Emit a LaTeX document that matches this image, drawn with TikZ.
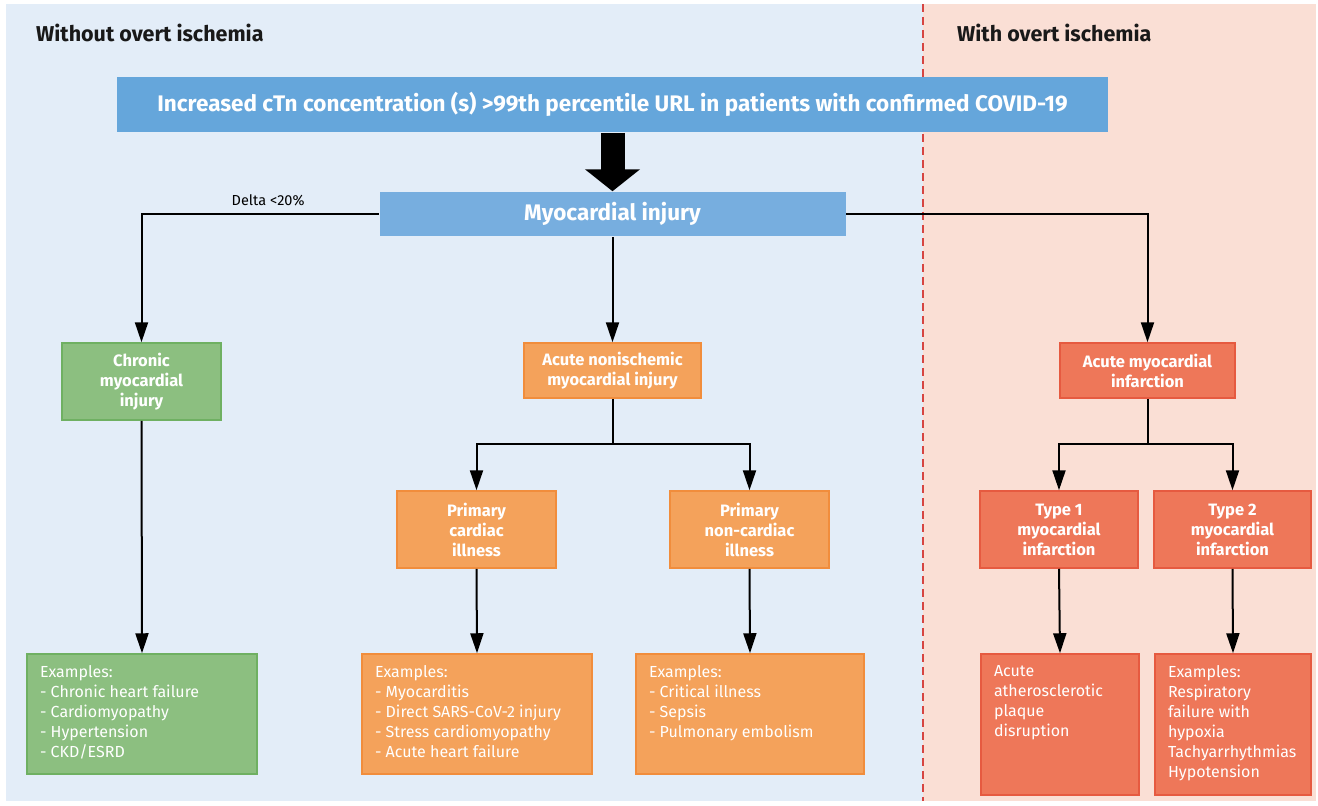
\documentclass[tikz,border=0pt]{standalone}
\usepackage{fontspec}
\setmainfont{Fira Sans}
\usetikzlibrary{arrows.meta,calc}
\definecolor{bgblue}{HTML}{E3EDF8}
\definecolor{bgpink}{HTML}{FADFD5}
\definecolor{topblue}{HTML}{65A6DB}
\definecolor{myoblue}{HTML}{77AEDF}
\definecolor{gfill}{HTML}{8CBF80}
\definecolor{gdraw}{HTML}{6FB062}
\definecolor{ofill}{HTML}{F4A25B}
\definecolor{odraw}{HTML}{F18D3C}
\definecolor{rfill}{HTML}{EE7759}
\definecolor{rdraw}{HTML}{E65A40}
\definecolor{dashred}{HTML}{D64541}
\tikzset{
  box/.style={rectangle, line width=1.5pt, text=white, align=center, inner sep=0pt,
    font=\bfseries\fontsize{16.5}{20}\selectfont},
  gbox/.style={box, fill=gfill, draw=gdraw},
  obox/.style={box, fill=ofill, draw=odraw},
  rbox/.style={box, fill=rfill, draw=rdraw},
  exfont/.style={font=\fontsize{16}{20}\selectfont, align=left},
  conn/.style={line width=2pt, black},
  arr/.style={conn, -{Triangle[length=20pt,width=13pt]}},
  title/.style={font=\bfseries\fontsize{21.5}{24}\selectfont, text=black!90, anchor=west, inner sep=0pt},
}
\newcommand{\exbox}[3]{\parbox[t][#2][t]{#1}{#3}}
\begin{document}
\begin{tikzpicture}[x=1pt,y=-1pt]
\useasboundingbox (0,0) rectangle (1318,806);
\fill[white] (0,0) rectangle (1318,806);
\fill[bgblue] (6,4) rectangle (923,801);
\fill[bgpink] (923,4) rectangle (1316,801);
\draw[dashred, line width=1.6pt, dash pattern=on 8pt off 5pt] (923,4) -- (923,801);

\node[title] (tl) at (36,33) {Without overt ischemia};
\node[title] (tr) at (957,33) {With overt ischemia};

\node[box, fill=topblue, minimum width=991pt, minimum height=55pt,
  font=\bfseries\fontsize{22.5}{26}\selectfont] (top) at (612.5,104.5)
  {Increased cTn concentration (s) >99th percentile URL in patients with confirmed COVID-19};
\node[box, fill=myoblue, minimum width=466pt, minimum height=44pt,
  font=\bfseries\fontsize{22.5}{26}\selectfont] (myo) at (612.5,214) {Myocardial injury};

\node[gbox, minimum width=159pt, minimum height=77pt] (chronic) at (141.5,381.5) {Chronic\\myocardial\\injury};
\node[obox, minimum width=177pt, minimum height=55pt] (ani) at (612.5,370.5) {Acute nonischemic\\myocardial injury};
\node[rbox, minimum width=175pt, minimum height=55pt] (ami) at (1147.5,370.5) {Acute myocardial\\infarction};

\node[obox, minimum width=159pt, minimum height=77pt] (pc) at (476.5,529.5) {Primary\\cardiac\\illness};
\node[obox, minimum width=159pt, minimum height=77pt] (pnc) at (749.5,529.5) {Primary\\non-cardiac\\illness};
\node[rbox, minimum width=158pt, minimum height=77pt] (t1) at (1059,529.5) {Type 1\\myocardial\\infarction};
\node[rbox, minimum width=157pt, minimum height=77pt] (t2) at (1232.5,529.5) {Type 2\\myocardial\\infarction};

\node[gbox, exfont, inner xsep=13pt, inner ysep=11pt] (ex1) at (142,714)
  {\exbox{204pt}{98pt}{Examples:\\- Chronic heart failure\\- Cardiomyopathy\\- Hypertension\\- CKD/ESRD}};
\node[obox, exfont, inner xsep=13pt, inner ysep=11pt] (ex2) at (477,714)
  {\exbox{204pt}{98pt}{Examples:\\- Myocarditis\\- Direct SARS-CoV-2 injury\\- Stress cardiomyopathy\\- Acute heart failure}};
\node[obox, exfont, inner xsep=13pt, inner ysep=11pt] (ex3) at (750,714)
  {\exbox{202pt}{98pt}{Examples:\\- Critical illness\\- Sepsis\\- Pulmonary embolism}};
\node[rbox, exfont, inner xsep=13pt, inner ysep=11pt] (ex4) at (1060,724.5)
  {\exbox{132pt}{119pt}{Acute\\atherosclerotic\\plaque\\disruption}};
\node[rbox, exfont, inner xsep=13pt, inner ysep=11pt] (ex5) at (1233,724.5)
  {\exbox{130pt}{119pt}{Examples:\\Respiratory\\failure with\\hypoxia\\Tachyarrhythmias\\Hypotension}};

% big arrow
\draw[line width=24pt, -{Triangle[length=22pt,width=54pt]}] (top.south) -- (myo.north);

\draw[arr] (myo.west) -| node[pos=0.25, above=4pt, font=\fontsize{14.5}{18}\selectfont, text=black, xshift=8pt] (delta) {Delta <20\%} (chronic.north);
\draw[arr] (myo.south) -- (ani.north);
\draw[arr] (myo.east) -| (ami.north);

\coordinate (lvl) at (0,444);
\draw[conn] (ani.south) -- (ani.south |- lvl);
\draw[arr] (ani.south |- lvl) -| (pc.north);
\draw[arr] (ani.south |- lvl) -| (pnc.north);
\draw[conn] (ami.south) -- (ami.south |- lvl);
\draw[arr] (ami.south |- lvl) -| (t1.north);
\draw[arr] (ami.south |- lvl) -| (t2.north);

\draw[arr] (chronic.south) -- (ex1.north);
\draw[arr] (pc.south) -- (ex2.north);
\draw[arr] (pnc.south) -- (ex3.north);
\draw[arr] (t1.south) -- (ex4.north);
\draw[arr] (t2.south) -- (ex5.north);
\end{tikzpicture}
\end{document}
